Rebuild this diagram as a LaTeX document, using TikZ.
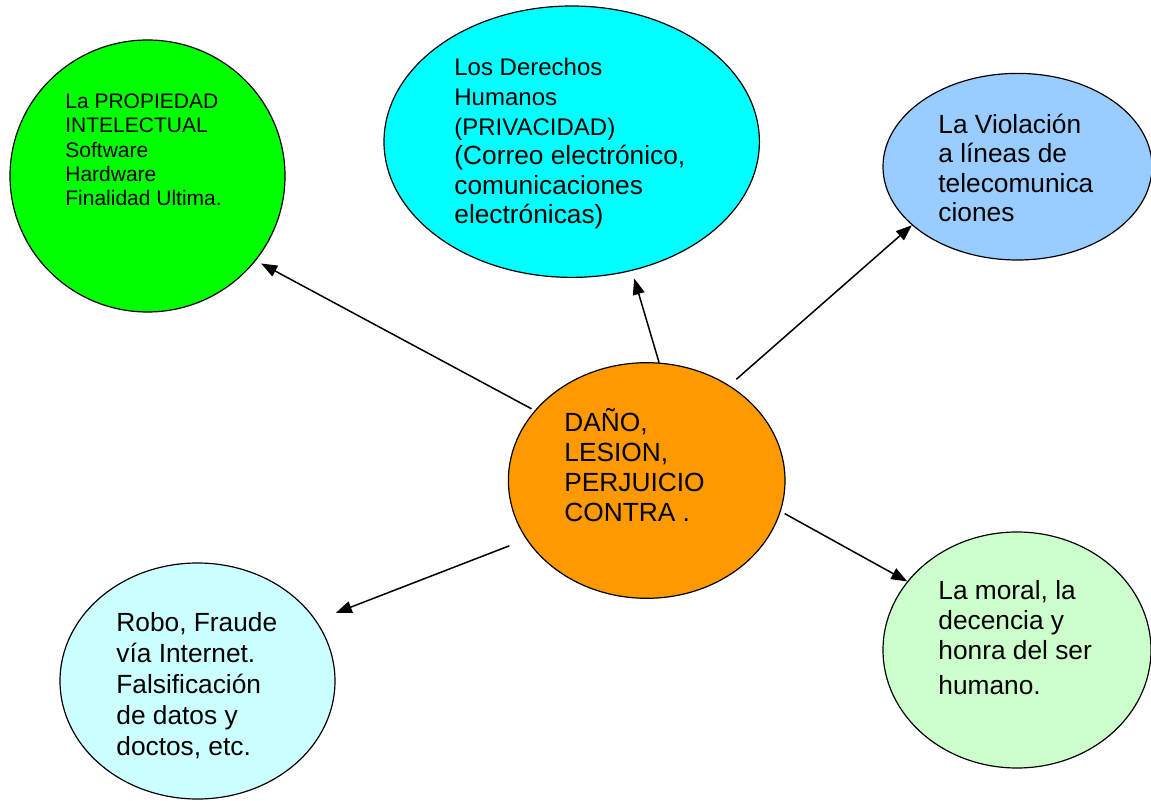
\documentclass[tikz,border=0pt]{standalone}
\usepackage{fontspec}
\setmainfont{Liberation Sans}
\usetikzlibrary{
    shapes.geometric,
    arrows.meta
}
\definecolor{propiedad}{HTML}{00FF00}
\definecolor{derechos}{HTML}{00FFFF}
\definecolor{violacion}{HTML}{99CCFF}
\definecolor{dano}{HTML}{FF9900}
\definecolor{robo}{HTML}{CCFFFF}
\definecolor{moral}{HTML}{CCFFCC}
\tikzset {
    topic/.style = {ellipse, draw, line width = 0.6pt, inner sep = 0pt},
    % anchor is the baseline of the last line
    topic text/.style = {
        anchor = base west,
        align = left,
        inner sep = 0pt,
        font = \fontsize{13.15}{15}\selectfont
    },
    link/.style = {
        line width = 0.75pt,
        arrows = {-Triangle[length = 8pt, width = 6pt]}
    }
}
\begin{document}
\begin{tikzpicture}[x = 0.5pt, y = -0.5pt]
    \useasboundingbox (0, 0) rectangle (1151, 801);
    % topics
    \node (propiedad) [topic, fill = propiedad, minimum width = 137.5pt, minimum height = 136pt] at (147.5, 176) {};
    \node (derechos) [topic, fill = derechos, minimum width = 187.7pt, minimum height = 135.7pt] at (571.7, 141.7) {};
    \node (violacion) [topic, fill = violacion, minimum width = 134.5pt, minimum height = 93.3pt] at (1017.5, 166.7) {};
    \node (dano) [topic, fill = dano, minimum width = 138.3pt, minimum height = 117.8pt] at (646.7, 480.5) {};
    \node (robo) [topic, fill = robo, minimum width = 137.5pt, minimum height = 118pt] at (197.5, 681) {};
    \node (moral) [topic, fill = moral, minimum width = 134pt, minimum height = 118pt] at (1017, 650) {};
    % texts
    \node (propiedad text) [topic text, font = \fontsize{10.5}{12.15}\selectfont] at (65, 205.7)
        {La PROPIEDAD\\ INTELECTUAL\\ Software\\ Hardware\\ Finalidad Ultima.};
    \node (derechos text) [topic text, font = \fontsize{12}{14.8}\selectfont] at (454, 224)
        {Los Derechos\\ Humanos\\ (PRIVACIDAD)\\
        \fontsize{13.15}{14.8}\selectfont (Correo electrónico,\\
        \fontsize{13.15}{14.8}\selectfont comunicaciones\\
        \fontsize{13.15}{14.8}\selectfont electrónicas)};
    \node (violacion text) [topic text, font = \fontsize{13.15}{14.7}\selectfont] at (938, 221.7)
        {La Violación\\ a líneas de\\ telecomunica\\ ciones};
    \node (dano text) [topic text] at (564, 521.7)
        {DAÑO,\\ LESION,\\ PERJUICIO\\ CONTRA .};
    \node (robo text) [topic text, font = \fontsize{13.15}{15.4}\selectfont] at (116, 755)
        {Robo, Fraude\\ vía Internet.\\ Falsificación\\ de datos y\\ doctos, etc.};
    \node (moral text) [topic text] at (938, 694)
        {La moral, la\\ decencia y\\ honra del ser\\[2.3pt] humano.};
    % links
    \draw [link, shorten <= 1.8pt, shorten >= 3pt] (dano.148) -- (propiedad.-38);
    \draw [link, shorten >= 4pt] (dano.84) -- (derechos.-65);
    \draw [link, shorten <= 4.6pt] (dano.49) -- (violacion.209);
    \draw [link, shorten <= 9pt, shorten >= 10.5pt] (dano.206) -- (robo.27);
    \draw [link, shorten <= 2.2pt] (dano.-13.5) -- (moral.148);
\end{tikzpicture}
\end{document}
